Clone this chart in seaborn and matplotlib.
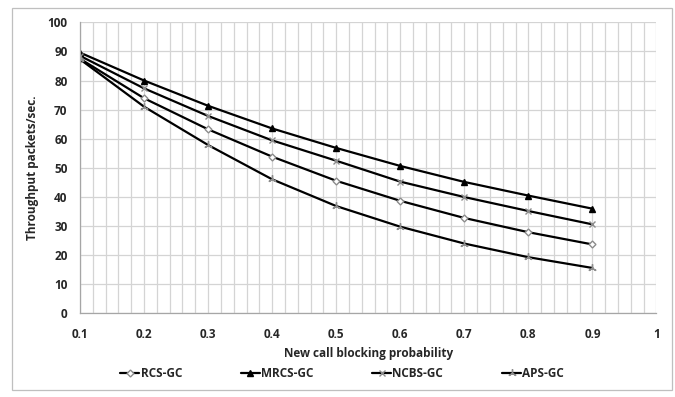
import numpy as np
import pandas as pd
import matplotlib
matplotlib.use('Agg')
import matplotlib.pyplot as plt
import seaborn as sns
from matplotlib.ticker import MultipleLocator
from matplotlib.patches import Rectangle

# values
prob = [0.1, 0.2, 0.3, 0.4, 0.5, 0.6, 0.7, 0.8, 0.9]
rcs_gc = [87.5, 73.9, 63.2, 53.8, 45.5, 38.6, 32.7, 27.8, 23.6]
mrcs_gc = [89.6, 80.0, 71.3, 63.5, 56.8, 50.6, 45.1, 40.4, 35.9]
ncbs_gc = [88.5, 77.3, 67.8, 59.4, 52.4, 45.2, 39.9, 35.1, 30.5]
aps_gc = [87.3, 71.0, 57.8, 46.0, 36.8, 29.7, 23.9, 19.2, 15.5]

series_names = ['RCS-GC', 'MRCS-GC', 'NCBS-GC', 'APS-GC']
series_values = [rcs_gc, mrcs_gc, ncbs_gc, aps_gc]

df = pd.DataFrame({
    'prob': prob * len(series_names),
    'value': sum(series_values, []),
    'series': np.repeat(series_names, len(prob)),
})

sns.set_style('white')
plt.rcParams['font.family'] = ['Open Sans', 'DejaVu Sans']
plt.rcParams['font.weight'] = 'bold'

fig = plt.figure(figsize=(6.75, 3.97), dpi=100)
ax = fig.add_axes([0.1185, 0.2116, 0.854, 0.732])

# marker styles: (marker, face, edge, size)
styles = {
    'RCS-GC': ('D', 'white', '#8c8c8c', 3.5),
    'MRCS-GC': ('^', 'black', 'black', 5),
    'NCBS-GC': ('x', 'none', '#8c8c8c', 5),
    'APS-GC': ((3, 2, 0), 'none', '#8c8c8c', 6),
}

for name in series_names:
    sub = df[df['series'] == name]
    m, fc, ec, ms = styles[name]
    sns.lineplot(data=sub, x='prob', y='value', ax=ax, color='black',
                 linewidth=1.6, marker=m, markersize=ms,
                 markerfacecolor=fc, markeredgecolor=ec,
                 markeredgewidth=1.0, label=name)

ax.set_xlim(0.1, 1.0)
ax.set_ylim(0, 100)
ax.xaxis.set_major_locator(MultipleLocator(0.1))
ax.xaxis.set_minor_locator(MultipleLocator(0.02))
ax.yaxis.set_major_locator(MultipleLocator(10))
ax.set_xticklabels([f'{v:g}' for v in np.round(ax.get_xticks(), 1)])

ax.grid(which='major', color='#d4d4d4', linewidth=0.9)
ax.grid(which='minor', axis='x', color='#d4d4d4', linewidth=0.9)
ax.set_axisbelow(True)

for side in ['top', 'right']:
    ax.spines[side].set_visible(False)
for side in ['left', 'bottom']:
    ax.spines[side].set_color('#a6a6a6')
    ax.spines[side].set_linewidth(0.9)

ax.tick_params(axis='both', which='major', direction='out', length=4,
               width=0.8, color='#a6a6a6', labelsize=8.5)
ax.tick_params(axis='x', which='major', pad=7)
ax.tick_params(axis='y', which='major', pad=5)
ax.tick_params(axis='x', which='minor', length=0)
for lbl in ax.get_xticklabels() + ax.get_yticklabels():
    lbl.set_fontweight('bold')

ax.set_xlabel('New call blocking probability', fontsize=8.5,
              fontweight='bold', labelpad=4)
ax.set_ylabel('Throughput packets/sec.', fontsize=8.5,
              fontweight='bold', labelpad=6)

ax.legend(loc='upper center', bbox_to_anchor=(0.455, -0.15), ncol=4,
          frameon=False, handlelength=1.6,
          handletextpad=0.1, columnspacing=5.0,
          prop={'weight': 'bold', 'size': 8.5})

# outer chart border
fig.patches.append(Rectangle((12 / 675, 1 - 390 / 397), 660 / 675, 382 / 397,
                             transform=fig.transFigure, fill=False,
                             edgecolor='#bfbfbf', linewidth=0.9))

fig.savefig('out.png', dpi=100)
